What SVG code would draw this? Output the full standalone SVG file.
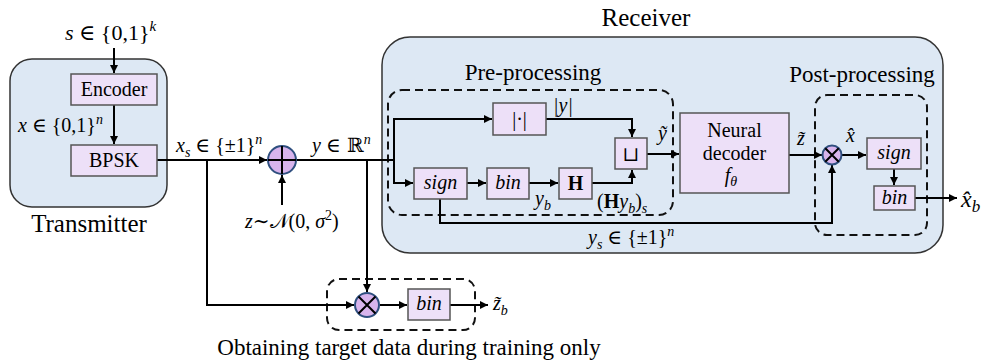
<svg xmlns="http://www.w3.org/2000/svg" width="993" height="362" viewBox="0 0 993 362">
<style>
.m{font-style:italic;font-size:20px}
.lbl{font-size:20px}
.title{font-size:25px}
.sub{font-size:23px}
.box{fill:#ede0f8;stroke:#555;stroke-width:1.5}
.grp{fill:#dde8f4;stroke:#333;stroke-width:1.5}
.dash{fill:none;stroke:#111;stroke-width:2;stroke-dasharray:8 5}
.w{fill:none;stroke:#000;stroke-width:2}
.circ{fill:#d8b4ec;stroke:#2f4f7f;stroke-width:2}
.n{font-style:normal}
</style>
<defs>
<marker id="ah" viewBox="0 0 10 10" refX="10" refY="5" markerWidth="4" markerHeight="4" orient="auto" markerUnits="strokeWidth">
<path d="M0,0 L10,5 L0,10 z" fill="#000"/>
</marker>
</defs>

<g id="transmitter">
<rect class="grp" x="10" y="59" width="157" height="148" rx="22"/>
<text class="title" font-family="Liberation Serif" x="89" y="232" text-anchor="middle">Transmitter</text>
</g>
<g id="receiver">
<rect class="grp" x="382" y="37" width="561" height="216" rx="28"/>
<text class="title" font-family="Liberation Serif" x="646" y="26" text-anchor="middle">Receiver</text>
</g>
<g id="preprocessing">
<rect class="dash" x="388" y="90" width="285" height="125" rx="14"/>
<text class="sub" font-family="Liberation Serif" x="533" y="80" text-anchor="middle">Pre-processing</text>
</g>
<g id="postprocessing">
<rect class="dash" x="815" y="95" width="112" height="140" rx="12"/>
<text class="sub" font-family="Liberation Serif" x="862" y="82" text-anchor="middle">Post-processing</text>
</g>
<g id="training">
<rect class="dash" x="327" y="279" width="148" height="51" rx="12"/>
<text class="sub" font-family="Liberation Serif" x="409" y="355" text-anchor="middle">Obtaining target data during training only</text>
</g>

<g id="connectors">
<path class="w" d="M114,48 V73" marker-end="url(#ah)"/>
<path class="w" d="M114,105 V144" marker-end="url(#ah)"/>
<path class="w" d="M157,160 H267" marker-end="url(#ah)"/>
<path class="w" d="M207,160 V305 H354" marker-end="url(#ah)"/>
<path class="w" d="M282,205 V175" marker-end="url(#ah)"/>
<path class="w" d="M296,160 H394"/>
<path class="w" d="M367,160 V292" marker-end="url(#ah)"/>
<path class="w" d="M394,160 V119 H492" marker-end="url(#ah)"/>
<path class="w" d="M394,160 V183 H413" marker-end="url(#ah)"/>
<path class="w" d="M546,119 H632 V137" marker-end="url(#ah)"/>
<path class="w" d="M467,183 H486" marker-end="url(#ah)"/>
<path class="w" d="M529,183 H558" marker-end="url(#ah)"/>
<path class="w" d="M592,183 H632 V170" marker-end="url(#ah)"/>
<path class="w" d="M647,154 H679" marker-end="url(#ah)"/>
<path class="w" d="M789,155 H822" marker-end="url(#ah)"/>
<path class="w" d="M842,155 H866" marker-end="url(#ah)"/>
<path class="w" d="M894,169 V185" marker-end="url(#ah)"/>
<path class="w" d="M915,198 H957" marker-end="url(#ah)"/>
<path class="w" d="M440,199 V223 H832 V165" marker-end="url(#ah)"/>
<path class="w" d="M380,305 H407" marker-end="url(#ah)"/>
<path class="w" d="M450,305 H488" marker-end="url(#ah)"/>
</g>

<g id="input-label">
<text class="m" font-family="Liberation Serif" x="65" y="40" style="font-size:22px">s <tspan class="n" font-family="DejaVu Serif">∈</tspan> <tspan class="n">{0,1}</tspan><tspan dy="-9" font-size="15">k</tspan></text>
</g>
<g id="encoder">
<rect class="box" x="71" y="74" width="86" height="31"/>
<text class="lbl" font-family="Liberation Serif" x="114" y="96" text-anchor="middle">Encoder</text>
</g>
<text class="m" font-family="Liberation Serif" x="18" y="132">x <tspan class="n" font-family="DejaVu Serif">∈</tspan> <tspan class="n">{0,1}</tspan><tspan dy="-8" font-size="14">n</tspan></text>
<g id="bpsk">
<rect class="box" x="71" y="145" width="86" height="31"/>
<text class="lbl" font-family="Liberation Serif" x="114" y="167" text-anchor="middle">BPSK</text>
</g>
<text class="m" font-family="Liberation Serif" x="176" y="152">x<tspan dy="5" font-size="14">s</tspan><tspan dy="-5"> </tspan><tspan class="n" font-family="DejaVu Serif">∈</tspan> <tspan class="n">{±1}</tspan><tspan dy="-8" font-size="14">n</tspan></text>

<g id="adder">
<circle class="circ" cx="282" cy="160" r="14"/>
<path d="M268,160 H296 M282,146 V174" stroke="#000" stroke-width="2"/>
</g>
<text class="m" font-family="Liberation Serif" x="245" y="228">z<tspan class="n" font-family="DejaVu Serif">∼𝒩</tspan><tspan class="n">(0, </tspan>σ<tspan class="n" dy="-8" font-size="14">2</tspan><tspan class="n" dy="8">)</tspan></text>
<text class="m" font-family="Liberation Serif" x="312" y="152">y <tspan class="n" font-family="DejaVu Serif">∈ ℝ</tspan><tspan dy="-8" font-size="14">n</tspan></text>

<g id="abs">
<rect class="box" x="493" y="103" width="53" height="32"/>
<text class="lbl" font-family="Liberation Serif" x="519.5" y="126" text-anchor="middle">|·|</text>
</g>
<text class="m" font-family="Liberation Serif" x="553" y="112">|y|</text>
<g id="concat">
<rect class="box" x="615" y="138" width="32" height="31"/>
<text class="lbl" x="631" y="161" text-anchor="middle" font-family="DejaVu Serif">⊔</text>
</g>
<text class="m" font-family="Liberation Serif" x="658" y="140">ỹ</text>
<g id="sign-pre">
<rect class="box" x="414" y="168" width="53" height="31"/>
<text class="m" font-family="Liberation Serif" x="440.5" y="189" text-anchor="middle">sign</text>
</g>
<g id="bin-pre">
<rect class="box" x="487" y="168" width="42" height="31"/>
<text class="m" font-family="Liberation Serif" x="508" y="189" text-anchor="middle">bin</text>
</g>
<g id="parity">
<rect class="box" x="559" y="168" width="33" height="31"/>
<text class="lbl" font-family="Liberation Serif" x="575.5" y="190" text-anchor="middle" font-weight="bold">H</text>
</g>
<text class="m" font-family="Liberation Serif" x="535" y="205">y<tspan dy="5" font-size="14">b</tspan></text>
<text class="m" font-family="Liberation Serif" x="597" y="208"><tspan class="n">(</tspan><tspan class="n" font-weight="bold">H</tspan>y<tspan dy="5" font-size="14">b</tspan><tspan class="n" dy="-5">)</tspan><tspan dy="5" font-size="14">s</tspan></text>
<text class="m" font-family="Liberation Serif" x="588" y="244">y<tspan dy="5" font-size="14">s</tspan><tspan dy="-5"> </tspan><tspan class="n" font-family="DejaVu Serif">∈</tspan> <tspan class="n">{±1}</tspan><tspan dy="-8" font-size="14">n</tspan></text>

<g id="neural-decoder">
<rect class="box" x="680" y="113" width="109" height="80"/>
<text class="lbl" font-family="Liberation Serif" x="734.5" y="137" text-anchor="middle">Neural</text>
<text class="lbl" font-family="Liberation Serif" x="734.5" y="160" text-anchor="middle">decoder</text>
<text class="m" font-family="Liberation Serif" x="731" y="182" text-anchor="middle">f<tspan dy="4" font-size="14">θ</tspan></text>
</g>
<text class="m" font-family="Liberation Serif" x="797" y="145">z̃</text>
<g id="mult-post">
<circle class="circ" cx="832" cy="155" r="9.5"/>
<path d="M825.3,148.3 L838.7,161.7 M838.7,148.3 L825.3,161.7" stroke="#000" stroke-width="2"/>
</g>
<text class="m" font-family="Liberation Serif" x="846" y="142">x̂</text>
<g id="sign-post">
<rect class="box" x="867" y="138" width="54" height="31"/>
<text class="m" font-family="Liberation Serif" x="894" y="159" text-anchor="middle">sign</text>
</g>
<g id="bin-post">
<rect class="box" x="874" y="186" width="41" height="24"/>
<text class="m" font-family="Liberation Serif" x="894.5" y="204" text-anchor="middle">bin</text>
</g>
<text class="m" font-family="Liberation Serif" x="961" y="207" style="font-size:24px">x̂<tspan dy="5" font-size="17">b</tspan></text>

<g id="mult-train">
<circle class="circ" cx="367" cy="305" r="12"/>
<path d="M358.5,296.5 L375.5,313.5 M375.5,296.5 L358.5,313.5" stroke="#000" stroke-width="2"/>
</g>
<g id="bin-train">
<rect class="box" x="408" y="289" width="42" height="31"/>
<text class="m" font-family="Liberation Serif" x="429" y="310" text-anchor="middle">bin</text>
</g>
<text class="m" font-family="Liberation Serif" x="493" y="310">z̃<tspan dy="5" font-size="14">b</tspan></text>
</svg>
